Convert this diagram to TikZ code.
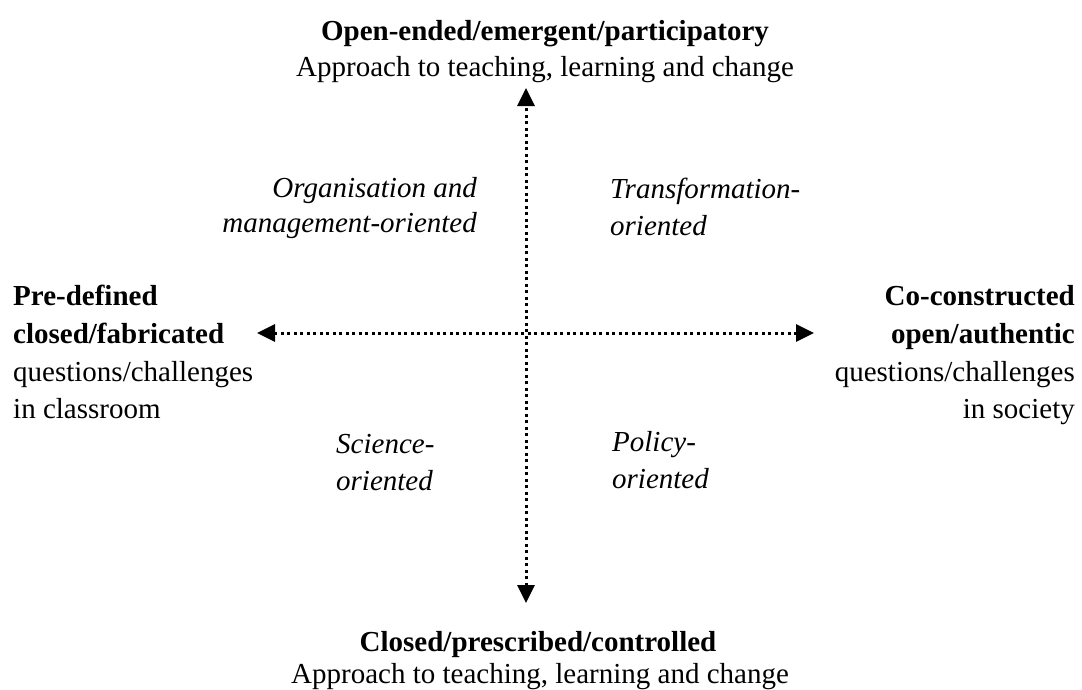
\documentclass[tikz,border=0pt]{standalone}
\usepackage{fontspec}
\setmainfont{Liberation Serif}
\usetikzlibrary{arrows.meta}
\begin{document}
\begin{tikzpicture}[x=1pt,y=-1pt,
  every node/.style={inner sep=0pt,font=\fontsize{29}{37}\selectfont},
  head/.style={font=\fontsize{29}{37}\selectfont\bfseries},
  quad/.style={font=\fontsize{29}{37}\selectfont\itshape},
  axis/.style={line width=3pt,dash pattern=on 3pt off 3.5pt,
    {Triangle[width=17pt,length=18pt]}-{Triangle[width=17pt,length=18pt]}}]
\useasboundingbox (0,0) rectangle (1082,689);

% axis end points
\coordinate (top) at (526,88);
\coordinate (bottom) at (526,603);
\coordinate (left) at (257,333);
\coordinate (right) at (814,333);

\draw[axis] (bottom) -- (top);
\draw[axis] (left) -- (right);

% vertical axis labels
\node[head,anchor=base] (topA) at (545,40) {Open-ended/emergent/participatory};
\node[anchor=base] (topB) at (545,76) {Approach to teaching, learning and change};
\node[head,anchor=base] (botA) at (538,651) {Closed/prescribed/controlled};
\node[anchor=base] (botB) at (540,683) {Approach to teaching, learning and change};

% horizontal axis labels
\node[head,anchor=base west] (lA) at (13,305) {Pre-defined};
\node[head,anchor=base west] (lB) at (13,343) {closed/fabricated};
\node[anchor=base west] (lC) at (13,381) {questions/challenges};
\node[anchor=base west] (lD) at (13,418) {in classroom};
\node[head,anchor=base east] (rA) at (1075,305) {Co-constructed};
\node[head,anchor=base east] (rB) at (1075,343) {open/authentic};
\node[anchor=base east] (rC) at (1075,381) {questions/challenges};
\node[anchor=base east] (rD) at (1075,418) {in society};

% quadrant labels
\node[quad,anchor=base east] (q1a) at (477,197) {Organisation and};
\node[quad,anchor=base east] (q1b) at (477,232) {management-oriented};
\node[quad,anchor=base west] (q2a) at (610,198) {Transformation-};
\node[quad,anchor=base west] (q2b) at (610,235) {oriented};
\node[quad,anchor=base west] (q3a) at (336,453) {Science-};
\node[quad,anchor=base west] (q3b) at (336,490) {oriented};
\node[quad,anchor=base west] (q4a) at (612,451) {Policy-};
\node[quad,anchor=base west] (q4b) at (612,488) {oriented};
\end{tikzpicture}
\end{document}
